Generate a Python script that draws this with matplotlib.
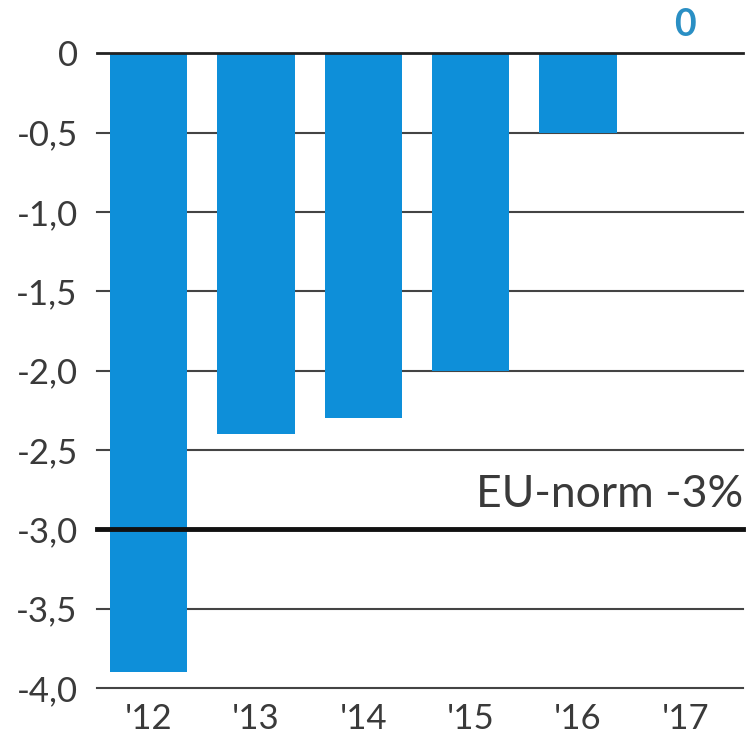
import matplotlib
matplotlib.use('Agg')
import matplotlib.pyplot as plt

# Data
years = ["'12", "'13", "'14", "'15", "'16", "'17"]
deficit = [-3.9, -2.4, -2.3, -2.0, -0.5, 0.0]
yticks = [0, -0.5, -1.0, -1.5, -2.0, -2.5, -3.0, -3.5, -4.0]
ytick_labels = ['0', '-0,5', '-1,0', '-1,5', '-2,0', '-2,5', '-3,0', '-3,5', '-4,0']
eu_norm = -3.0

bar_color = '#0e8fd9'
text_color = '#3a3a3a'

plt.rcParams['font.family'] = ['Lato', 'DejaVu Sans']

fig = plt.figure(figsize=(7.47, 7.39), dpi=100)
ax = fig.add_axes([0.13, 0.069, 0.865, 0.859])

x = list(range(len(years)))
ax.bar(x, deficit, width=0.72, color=bar_color, zorder=2)

# gridlines
for t in yticks:
    if t == 0:
        ax.axhline(t, color='#222222', lw=2.0, zorder=3, clip_on=False)
    elif t == eu_norm:
        continue
    else:
        ax.axhline(t, color='#444444', lw=1.5, zorder=1, clip_on=False)
ax.axhline(eu_norm, color='#111111', lw=3.5, zorder=3, clip_on=False)

ax.text(5.54, eu_norm + 0.22, 'EU-norm -3%', ha='right', va='center',
        fontsize=32, color=text_color)

# label for the zero bar
ax.text(x[-1], 0.18, '0', ha='center', va='center', fontsize=27,
        color='#2a8fc4', fontweight='bold')

ax.set_xlim(-0.48, 5.54)
ax.set_ylim(-4.0, 0)
ax.set_yticks(yticks)
ax.set_yticklabels(ytick_labels, fontsize=25, color=text_color)
ax.set_xticks(x)
ax.set_xticklabels(years, fontsize=25, color=text_color)
ax.tick_params(axis='y', length=0, pad=14)
ax.tick_params(axis='x', length=0, pad=11)
for s in ax.spines.values():
    s.set_visible(False)

fig.savefig('out.png', dpi=100)
